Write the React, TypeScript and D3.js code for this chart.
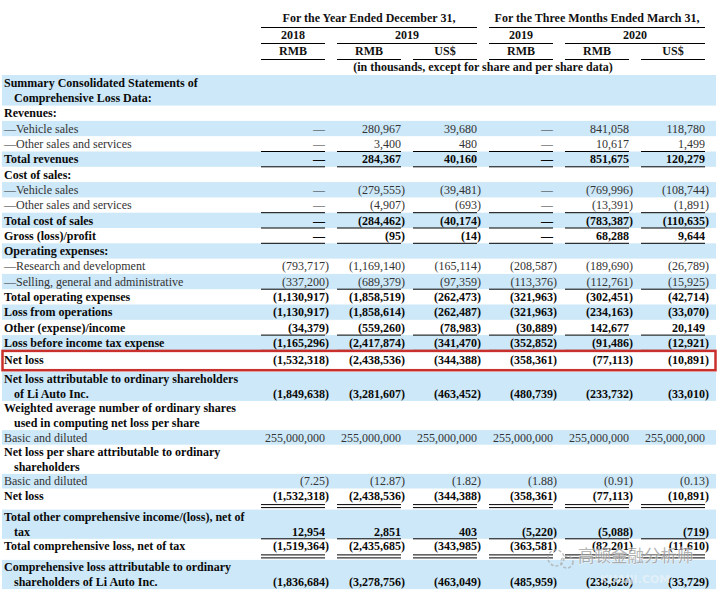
import React from "react";
import * as d3 from "d3";

// ---------- DATA ----------
const periodGroups = ["For the Year Ended December 31,", "For the Three Months Ended March 31,"];
const yearLabels = ["2018", "2019", "2019", "2020"];
const currencyLabels = ["RMB", "RMB", "US$", "RMB", "RMB", "US$"];
const unitNote = "(in thousands, except for share and per share data)";

const rowLabels: string[][] = [
  ["Summary Consolidated Statements of", "Comprehensive Loss Data:"],
  ["Revenues:"],
  ["—Vehicle sales"],
  ["—Other sales and services"],
  ["Total revenues"],
  ["Cost of sales:"],
  ["—Vehicle sales"],
  ["—Other sales and services"],
  ["Total cost of sales"],
  ["Gross (loss)/profit"],
  ["Operating expenses:"],
  ["—Research and development"],
  ["—Selling, general and administrative"],
  ["Total operating expenses"],
  ["Loss from operations"],
  ["Other (expense)/income"],
  ["Loss before income tax expense"],
  ["Net loss"],
  ["Net loss attributable to ordinary shareholders", "of Li Auto Inc."],
  ["Weighted average number of ordinary shares", "used in computing net loss per share"],
  ["Basic and diluted"],
  ["Net loss per share attributable to ordinary", "shareholders"],
  ["Basic and diluted"],
  ["Net loss"],
  ["Total other comprehensive income/(loss), net of", "tax"],
  ["Total comprehensive loss, net of tax"],
  ["Comprehensive loss attributable to ordinary", "shareholders of Li Auto Inc."],
];

const rowValues: ((number | null)[] | null)[] = [
  null,
  null,
  [null, 280967, 39680, null, 841058, 118780],
  [null, 3400, 480, null, 10617, 1499],
  [null, 284367, 40160, null, 851675, 120279],
  null,
  [null, -279555, -39481, null, -769996, -108744],
  [null, -4907, -693, null, -13391, -1891],
  [null, -284462, -40174, null, -783387, -110635],
  [null, -95, -14, null, 68288, 9644],
  null,
  [-793717, -1169140, -165114, -208587, -189690, -26789],
  [-337200, -689379, -97359, -113376, -112761, -15925],
  [-1130917, -1858519, -262473, -321963, -302451, -42714],
  [-1130917, -1858614, -262487, -321963, -234163, -33070],
  [-34379, -559260, -78983, -30889, 142677, 20149],
  [-1165296, -2417874, -341470, -352852, -91486, -12921],
  [-1532318, -2438536, -344388, -358361, -77113, -10891],
  [-1849638, -3281607, -463452, -480739, -233732, -33010],
  null,
  [255000000, 255000000, 255000000, 255000000, 255000000, 255000000],
  null,
  [-7.25, -12.87, -1.82, -1.88, -0.91, -0.13],
  [-1532318, -2438536, -344388, -358361, -77113, -10891],
  [12954, 2851, 403, -5220, -5088, -719],
  [-1519364, -2435685, -343985, -363581, -82201, -11610],
  [-1836684, -3278756, -463049, -485959, -238820, -33729],
];

const detailRows = [2, 3, 6, 7, 11, 12, 20, 22];
const decimalRows = [22];
const singleRuleBelow = [3, 4, 7, 8, 9, 12, 15, 16, 24];
const doubleRuleBelow = [23, 25];
const highlightedRow = 17;
const watermarkText = "高顿金融分析师";
const watermarkSub = "KUAIJI.COM";

// ---------- LAYOUT ----------
const W = 720;
const H = 591;
const FONT = "'Liberation Serif', 'Times New Roman', serif";
const SHADE = "#cde8f8";
const tableTop = 75;
const lineTop = 15.3;
const lineBottom = 14.6;

const col = d3
  .scaleBand<number>()
  .domain(d3.range(6))
  .range([261, 705])
  .paddingInner(12 / 76)
  .paddingOuter(0);

function layoutRows() {
  const out: { y: number; h: number; lineH: number }[] = [];
  let y = tableTop;
  rowLabels.forEach((lines, i) => {
    const lh = i <= highlightedRow ? lineTop : lineBottom;
    let h = lines.length * lh;
    if (i === highlightedRow) h += 3;
    out.push({ y, h, lineH: lh });
    y += h;
    if (i === highlightedRow) y += 3;
    if (doubleRuleBelow.includes(i)) y += 6.5;
  });
  return out;
}

const fmtInt = d3.format(",");
const fmtDec = d3.format(",.2f");

export default function App() {
  const rows = layoutRows();
  const cr = (i: number) => (col(i) as number) + col.bandwidth();
  const cl = (i: number) => col(i) as number;

  return (
    <svg
      width={W}
      height={H}
      viewBox={`0 0 ${W} ${H}`}
      style={{ position: "absolute", left: 0, top: 0, background: "#fff" }}
      fontFamily={FONT}
    >
      <rect x={0} y={0} width={W} height={H} fill="#fff" />

      {/* header */}
      <g fontWeight="bold" fontSize={12} fill="#111" textAnchor="middle">
        <text x={(cl(0) + cr(2)) / 2} y={22}>{periodGroups[0]}</text>
        <text x={(cl(3) + cr(5)) / 2} y={22}>{periodGroups[1]}</text>
        <line x1={cl(0)} x2={cr(2)} y1={27.5} y2={27.5} stroke="#000" />
        <line x1={cl(3)} x2={cr(5)} y1={27.5} y2={27.5} stroke="#000" />
        {[
          [0, 0],
          [1, 2],
          [3, 3],
          [4, 5],
        ].map(([a, b], k) => (
          <g key={k}>
            <text x={(cl(a) + cr(b)) / 2} y={38.5}>{yearLabels[k]}</text>
            <line x1={cl(a)} x2={cr(b)} y1={43.5} y2={43.5} stroke="#000" />
          </g>
        ))}
        {currencyLabels.map((c, i) => (
          <g key={i}>
            <text x={(cl(i) + cr(i)) / 2} y={55}>{c}</text>
            <line x1={cl(i)} x2={cr(i)} y1={59.5} y2={59.5} stroke="#000" />
          </g>
        ))}
        <text x={(cl(0) + cr(5)) / 2} y={70.5}>{unitNote}</text>
      </g>

      {/* shading */}
      {rows.map((r, i) =>
        i % 2 === 0 ? <rect key={i} x={2} y={r.y} width={714} height={r.h} fill={SHADE} /> : null
      )}

      {/* rows */}
      {rows.map((r, i) => {
        const bold = !detailRows.includes(i);
        const fill = bold ? "#0a0a0a" : "#333";
        const lines = rowLabels[i];
        const extra = i === highlightedRow ? 1.5 : 0;
        const baseline = (k: number) => r.y + extra + k * r.lineH + r.lineH / 2 + 4.2;
        const lastBase = baseline(lines.length - 1);
        const vals = rowValues[i];
        return (
          <g key={i} fontSize={12} fontWeight={bold ? "bold" : "normal"} fill={fill}>
            {lines.map((t, k) => (
              <text key={k} x={k === 0 ? 4 : 14} y={baseline(k)}>
                {t}
              </text>
            ))}
            {vals &&
              vals.map((v, c) => {
                const x = cr(c);
                if (v === null)
                  return (
                    <text key={c} x={x} y={lastBase} textAnchor="end">
                      —
                    </text>
                  );
                const f = decimalRows.includes(i) ? fmtDec : fmtInt;
                const s = f(Math.abs(v));
                return (
                  <g key={c}>
                    <text x={x} y={lastBase} textAnchor="end">
                      {v < 0 ? "(" + s : s}
                    </text>
                    {v < 0 && (
                      <text x={x} y={lastBase} textAnchor="start">
                        )
                      </text>
                    )}
                  </g>
                );
              })}
          </g>
        );
      })}

      {/* rules */}
      {rows.map((r, i) => {
        const yb = r.y + r.h;
        const items: JSX.Element[] = [];
        if (singleRuleBelow.includes(i)) {
          d3.range(6).forEach((c) =>
            items.push(<line key={`s${i}-${c}`} x1={cl(c)} x2={cr(c)} y1={yb} y2={yb} stroke="#000" strokeWidth={1} />)
          );
        }
        if (doubleRuleBelow.includes(i)) {
          d3.range(6).forEach((c) => {
            items.push(<line key={`d1${i}-${c}`} x1={cl(c)} x2={cr(c)} y1={yb + 1.5} y2={yb + 1.5} stroke="#000" strokeWidth={1} />);
            items.push(<line key={`d2${i}-${c}`} x1={cl(c)} x2={cr(c)} y1={yb + 4.5} y2={yb + 4.5} stroke="#000" strokeWidth={1} />);
          });
        }
        return <g key={i}>{items}</g>;
      })}

      {/* highlight box */}
      {(() => {
        const r = rows[highlightedRow];
        return (
          <rect x={2.5} y={r.y + 0.5} width={713} height={r.h + 1} fill="none" stroke="#c9302c" strokeWidth={2.5} />
        );
      })()}

      {/* watermark */}
      <g opacity={0.75}>
        <circle cx={556} cy={558} r={8} fill="none" stroke="#aaa" strokeWidth={1.5} strokeDasharray="3 2" />
        <circle cx={567} cy={562} r={6} fill="none" stroke="#aaa" strokeWidth={1.5} strokeDasharray="3 2" />
        <text
          x={578}
          y={562}
          fontFamily="'Noto Sans CJK SC', sans-serif"
          fontSize={16.5}
          fill="#9a9a9a"
          stroke="#fff"
          strokeWidth={0.8}
          paintOrder="stroke"
        >
          {watermarkText}
        </text>
        <text x={600} y={583} fontFamily="'DejaVu Sans', sans-serif" fontSize={11} fill="#e8f2f8" fontWeight="bold">
          {watermarkSub}
        </text>
      </g>
    </svg>
  );
}
